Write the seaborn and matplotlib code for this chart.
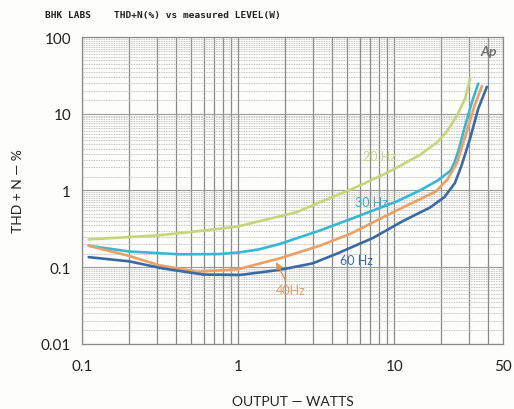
import numpy as np
import pandas as pd
import matplotlib
matplotlib.use("Agg")
import matplotlib.pyplot as plt
import seaborn as sns
from matplotlib.ticker import LogLocator, NullFormatter, FixedLocator, FixedFormatter

# data (output watts, THD+N %)
w20 = [0.11, 0.31, 0.6, 1.0, 2.36, 3.33, 5.4, 9.0, 14.6, 19.0, 21.8, 25.3, 28.5, 30.7]
t20 = [0.23, 0.26, 0.3, 0.34, 0.52, 0.7, 1.05, 1.7, 2.9, 4.3, 5.9, 9.5, 15.8, 28.8]

w30 = [0.11, 0.2, 0.42, 0.75, 1.0, 1.35, 1.84, 3.33, 5.2, 10.4, 14.6, 19.0, 22.9, 24.3, 25.8, 28.5, 31.6, 34.6]
t30 = [0.19, 0.16, 0.147, 0.148, 0.155, 0.17, 0.2, 0.3, 0.42, 0.72, 1.0, 1.35, 1.8, 2.3, 3.3, 7.0, 14.4, 24.8]

w40 = [0.11, 0.2, 0.31, 0.55, 1.0, 1.84, 3.33, 5.2, 10.4, 18.5, 22.0, 25.3, 28.9, 32.6, 36.5]
t40 = [0.19, 0.14, 0.106, 0.087, 0.094, 0.13, 0.19, 0.27, 0.55, 0.97, 1.4, 2.3, 5.5, 12.4, 23.0]

w60 = [0.11, 0.2, 0.33, 0.6, 1.02, 1.84, 3.0, 4.3, 7.3, 11.4, 17.0, 21.0, 24.5, 27.0, 30.7, 34.6, 39.3]
t60 = [0.135, 0.119, 0.096, 0.08, 0.079, 0.092, 0.112, 0.15, 0.24, 0.4, 0.6, 0.82, 1.25, 2.1, 4.8, 11.7, 22.5]

series = ["20 Hz", "30 Hz", "40 Hz", "60 Hz"]
colors = ["#c5d67a", "#38b6d6", "#eba066", "#3b6aa3"]
x_ticks = [0.1, 1, 10, 50]
x_labels = ["0.1", "1", "10", "50"]
y_ticks = [0.01, 0.1, 1, 10, 100]
y_labels = ["0.01", "0.1", "1", "10", "100"]

frames = []
for name, w, t in zip(series, [w20, w30, w40, w60], [t20, t30, t40, t60]):
    frames.append(pd.DataFrame({"watts": w, "thd": t, "freq": name}))
df = pd.concat(frames, ignore_index=True)

sns.set_style("white")
plt.rcParams["font.family"] = ["Lato", "DejaVu Sans"]

fig = plt.figure(figsize=(5.14, 4.10), dpi=100)
fig.patch.set_facecolor("#fdfdf9")
ax = fig.add_axes([0.160, 0.159, 0.819, 0.748])
ax.set_facecolor("#fdfdf9")

ax.set_xscale("log")
ax.set_yscale("log")
ax.set_xlim(0.1, 50)
ax.set_ylim(0.01, 100)

# chart-paper grid
ax.xaxis.set_minor_locator(LogLocator(base=10, subs=np.arange(2, 10)))
ax.yaxis.set_minor_locator(LogLocator(base=10, subs=np.arange(1.5, 10, 0.5)))
ax.xaxis.set_minor_formatter(NullFormatter())
ax.yaxis.set_minor_formatter(NullFormatter())
ax.grid(True, axis="x", which="both", color="#8a8a8a", lw=0.9)
ax.grid(True, axis="y", which="major", color="#9a9a9a", lw=0.8)
ax.grid(True, axis="y", which="minor", color="#b0b0b0", lw=0.6, ls=(0, (1, 1)))
ax.set_axisbelow(True)

sns.lineplot(data=df, x="watts", y="thd", hue="freq", palette=colors,
             sort=False, lw=1.9, legend=False, ax=ax)

ax.xaxis.set_major_locator(FixedLocator(x_ticks))
ax.xaxis.set_major_formatter(FixedFormatter(x_labels))
ax.yaxis.set_major_locator(FixedLocator(y_ticks))
ax.yaxis.set_major_formatter(FixedFormatter(y_labels))
ax.tick_params(axis="both", which="both", length=0, labelsize=11, colors="#222222")
ax.tick_params(axis="x", pad=11)
ax.tick_params(axis="y", pad=8)

for sp in ax.spines.values():
    sp.set_color("#8a8a8a")
    sp.set_linewidth(0.9)

ax.set_xlabel("OUTPUT — WATTS", fontsize=10, color="#222222", labelpad=16)
ax.set_ylabel("")
fig.text(0.035, 0.535, "THD + N — %", rotation=90, fontsize=10,
         color="#222222", ha="center", va="center")

# curve labels
ax.text(8.1, 2.85, "20 Hz", color="#c9d48a", fontsize=9, ha="center", va="center")
ax.text(7.2, 0.70, "30 Hz", color="#41a9c6", fontsize=9, ha="center", va="center")
ax.text(5.7, 0.123, "60 Hz", color="#3d6da6", fontsize=9, ha="center", va="center")
ax.text(2.17, 0.05, "40Hz", color="#e39d68", fontsize=9, ha="center", va="center")
ax.annotate("", xy=(1.72, 0.125), xytext=(2.05, 0.062),
            arrowprops=dict(arrowstyle="-|>", color="#e8904e", lw=0.9))

ax.text(0.985, 0.975, "Ap", transform=ax.transAxes, ha="right", va="top",
        fontsize=10, color="#707070", style="italic", weight="bold")

fig.text(0.088, 0.962, "BHK LABS    THD+N(%) vs measured LEVEL(W)",
         fontsize=6.8, family="DejaVu Sans Mono", weight="bold",
         color="#222222", va="center")

fig.savefig("out.png", dpi=100, facecolor=fig.get_facecolor())
